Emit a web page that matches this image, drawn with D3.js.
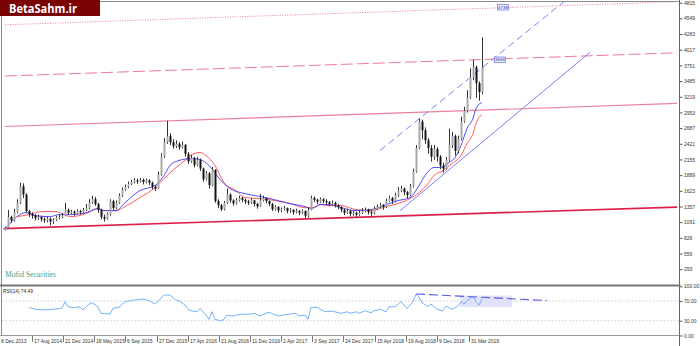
<!DOCTYPE html>
<html><head><meta charset="utf-8">
<script src="https://cdn.jsdelivr.net/npm/d3@7"></script>
<style>body{margin:0;background:#fff}svg{display:block}</style>
</head><body>
<svg id="c" width="700" height="346"></svg>
<script>
// ---------- DATA ----------
const openP = [
 960,1000,1180,1120,1260,1420,1700,1560,1280,1230,
 1200,1160,1180,1140,1120,1150,1100,1130,1170,1180,
 1200,1300,1250,1270,1240,1280,1260,1300,1330,1420,
 1480,1400,1300,1180,1150,1230,1450,1330,1420,1540,
 1640,1690,1740,1770,1800,1780,1810,1770,1800,1760,
 1690,1660,1900,2200,2450,2550,2450,2380,2420,2360,
 2400,2250,2120,2180,2060,2150,2000,1820,1920,1720,
 1980,1450,1380,1310,1420,1560,1460,1410,1460,1500,
 1470,1440,1420,1460,1400,1360,1460,1500,1450,1400,
 1310,1350,1290,1310,1330,1280,1300,1260,1280,1250,
 1280,1200,1300,1500,1470,1440,1480,1450,1430,1400,
 1420,1380,1350,1300,1250,1280,1230,1250,1220,1250,
 1280,1300,1260,1240,1320,1350,1380,1350,1450,1500,
 1450,1550,1620,1660,1600,1550,1700,1950,2350,2800,
 2650,2480,2350,2200,2330,2200,2050,2000,2150,2400,
 2550,2300,2500,2800,2980,3200,3550,3720,3450,3300];
const highP = [
 1020,1300,1200,1320,1480,1760,1750,1580,1300,1260,
 1230,1220,1200,1170,1180,1170,1160,1200,1220,1240,
 1420,1320,1300,1290,1310,1300,1330,1400,1480,1540,
 1520,1420,1320,1220,1260,1480,1470,1460,1580,1680,
 1730,1780,1810,1840,1830,1840,1830,1830,1820,1780,
 1720,1950,2260,2520,2810,2600,2500,2480,2450,2460,
 2420,2280,2230,2200,2200,2170,2020,1960,1940,2030,
 1990,1480,1400,1450,1660,1580,1480,1500,1540,1520,
 1490,1470,1500,1470,1420,1570,1540,1510,1460,1420,
 1380,1360,1340,1370,1340,1330,1310,1320,1300,1310,
 1290,1340,1540,1530,1490,1510,1500,1480,1450,1460,
 1440,1400,1360,1320,1320,1300,1290,1270,1290,1330,
 1340,1320,1290,1360,1390,1420,1400,1490,1540,1520,
 1590,1690,1710,1680,1620,1740,2000,2400,2850,2830,
 2700,2520,2400,2400,2360,2230,2100,2200,2680,2620,
 2580,2560,2880,3050,3330,3700,3850,3750,3480,4228];
const lowP = [
 950,990,1080,1100,1240,1400,1500,1250,1180,1150,
 1120,1130,1100,1080,1090,1040,1060,1110,1140,1160,
 1190,1220,1230,1200,1230,1220,1240,1280,1310,1400,
 1370,1250,1140,1100,1130,1200,1300,1310,1400,1520,
 1620,1670,1720,1750,1740,1760,1730,1750,1720,1650,
 1620,1650,1880,2180,2420,2400,2340,2350,2320,2340,
 2200,2080,2100,2020,2040,1960,1780,1800,1660,1700,
 1420,1330,1280,1290,1400,1420,1370,1390,1440,1430,
 1400,1380,1400,1360,1320,1350,1440,1410,1360,1280,
 1290,1250,1260,1290,1240,1250,1220,1240,1210,1230,
 1160,1170,1290,1430,1400,1420,1410,1390,1360,1380,
 1340,1310,1260,1210,1230,1190,1200,1180,1200,1230,
 1260,1220,1190,1220,1300,1330,1300,1330,1440,1400,
 1430,1520,1600,1550,1500,1530,1680,1930,2330,2500,
 2420,2250,2120,2150,2120,1990,1930,1980,2120,2350,
 2220,2260,2480,2780,2950,3180,3500,3200,3150,3260];
const closeP = [
 1000,1180,1120,1260,1420,1700,1560,1280,1230,1200,
 1160,1180,1140,1120,1150,1100,1130,1170,1180,1200,
 1300,1250,1270,1240,1280,1260,1300,1330,1420,1480,
 1400,1300,1180,1150,1230,1450,1330,1420,1540,1640,
 1690,1740,1770,1800,1780,1810,1770,1800,1760,1690,
 1660,1900,2200,2450,2550,2450,2380,2420,2360,2400,
 2250,2120,2180,2060,2150,2000,1820,1920,1720,1980,
 1450,1380,1310,1420,1560,1460,1410,1460,1500,1470,
 1440,1420,1460,1400,1360,1460,1500,1450,1400,1310,
 1350,1290,1310,1330,1280,1300,1260,1280,1250,1280,
 1200,1300,1500,1470,1440,1480,1450,1430,1400,1420,
 1380,1350,1300,1250,1280,1230,1250,1220,1250,1280,
 1300,1260,1240,1320,1350,1380,1350,1450,1500,1450,
 1550,1620,1660,1600,1550,1700,1950,2350,2800,2650,
 2480,2350,2200,2330,2200,2050,2000,2150,2400,2550,
 2300,2500,2800,2980,3200,3550,3720,3450,3300,3720];

const maBlueIdx = [0,7,10,15,18,22,27,31,33,37,40,45,50,53,55,58,62,65,68,72,75,80,87,95,100,102,105,108,112,117,122,127,131,135,138,140,143,145,148,150,152,154,156,157,159];
const maBlueVal = [970,1253,1202,1185,1219,1219,1253,1321,1287,1287,1423,1627,1712,1882,2052,2137,2171,2154,2052,1797,1661,1576,1508,1406,1355,1321,1389,1389,1338,1287,1304,1389,1457,1508,1712,1882,2018,2018,2103,2188,2392,2681,2851,3021,3123];
const maRedIdx = [4,8,12,17,19,22,27,31,33,37,40,45,50,53,57,60,63,65,67,70,73,77,80,85,90,95,100,103,105,108,112,117,122,127,132,135,138,141,143,146,149,152,154,156,157,159];
const maRedVal = [1185,1219,1270,1270,1236,1185,1236,1321,1287,1287,1355,1508,1678,1831,2018,2137,2256,2273,2222,2052,1763,1627,1508,1491,1457,1406,1338,1338,1389,1372,1372,1304,1287,1355,1423,1491,1593,1746,1882,1967,2086,2222,2426,2596,2766,2919];

const rsiIdx = [8,10,13,17,19,20,21,23,25,26,28,29,31,32,35,36,38,40,43,46,48,50,52,53,55,57,58,60,61,62,64,65,67,68,69,70,72,73,74,76,78,82,83,85,87,88,91,93,95,97,98,100,101,102,104,106,107,109,112,114,115,117,118,120,122,123,125,127,128,130,132,133,134,136,137,138,139,141,142,144,146,147,149,151,152,153,154,156,157,158,159];
const rsiVal = [57.2,53.2,51.8,53.8,55.8,68.6,58.5,56.4,58.5,51.8,63.9,66.6,58.5,45.1,43.6,55.2,57.2,68.6,72.1,74.1,70.6,63.9,75.5,82.2,82.2,72.1,70.6,61.9,53.2,50.3,48.3,55.2,41.6,32.9,48.3,32.9,30.0,32.9,41.6,39.6,43.0,43.6,45.1,39.6,45.1,47.1,39.6,41.6,43.6,45.1,39.6,41.6,32.9,57.2,57.2,50.3,48.3,49.7,45.1,48.3,45.1,48.3,45.1,50.3,46.3,50.3,53.2,48.3,58.5,58.5,68.6,61.9,55.2,68.6,84.2,78.8,66.6,58.5,63.9,53.2,50.3,59.9,53.2,59.9,68.6,63.9,70.6,80.2,68.6,61.9,74.49];

const priceTicks = [4815,4549,4283,4017,3751,3485,3219,2953,2687,2421,2155,1889,1623,1357,1091,826,559,293];
const rsiTicks = [100,70,30,0];
const rsiTickLabels = ["100.00","70.00","30.00","0.00"];
const rsiLevels = [70,30];
const dateLabels = ["8 Dec 2013","17 Aug 2014","21 Dec 2014","18 May 2015","6 Sep 2015","27 Dec 2015","17 Apr 2016","21 Aug 2016","11 Dec 2016","2 Apr 2017","3 Sep 2017","24 Dec 2017","15 Apr 2018","19 Aug 2018","9 Dec 2018","31 Mar 2019"];
const dateIdx = [-1.4,8.9,19.4,29.7,40,50.5,61,71.3,81.7,92,102.3,112.7,123.3,133.7,144.1,154.7];

// drawn objects (index, price)
const channelTopDotted = [[0,4440],[224,4832]];
const channelDashed = [[0,3571],[224,3965]];
const channelMid = [[0,2715],[224,3106]];
const channelBottom = [[-0.5,982],[224,1347]];
const trendSupport = [[131.7,1287],[195,3973]];
const trendResistance = [[125,2308],[187,4860]];
const priceLabelText = ["4738","3846"];
const priceLabelIdx = [166,165];
const priceLabelVal = [4738,3846];
const rsiTrend = [[137,84.5],[180.7,71]];
const rsiBox = [[151.7,81],[169,58]];
const rsiName = "RSI(14) 74.49";
const brand = "BetaSahm.ir";
const watermark = "Mofid Securities";

// ---------- DRAW ----------
const svg = d3.select("#c");
const W = 700;
const axisX = 679.5;
const x = d3.scaleLinear().domain([0,224]).range([5,677]);
const y = d3.scaleLinear().domain([293,4815]).range([269.2,2.7]);
const yr = d3.scaleLinear().domain([0,100]).range([335.5,286.3]);
const font = "'Liberation Sans', Arial, sans-serif";

svg.append("rect").attr("width",W).attr("height",346).attr("fill","#fff");

const defs = svg.append("defs");
defs.append("clipPath").attr("id","main").append("rect").attr("x",2).attr("y",1.5).attr("width",axisX-2).attr("height",283);
defs.append("clipPath").attr("id","rsi").append("rect").attr("x",2).attr("y",287).attr("width",axisX-2).attr("height",48);

const main = svg.append("g").attr("clip-path","url(#main)");
const line2 = (pts)=> d3.line().x(d=>x(d[0])).y(d=>y(d[1]))(pts);

// channel lines
main.append("path").attr("d",line2(channelTopDotted)).attr("stroke","#ec7b95").attr("stroke-width",1).attr("stroke-dasharray","1,1.5").attr("fill","none");
main.append("path").attr("d",line2(channelDashed)).attr("stroke","#ec7b95").attr("stroke-width",1).attr("stroke-dasharray","12,4").attr("fill","none");
main.append("path").attr("d",line2(channelMid)).attr("stroke","#ee7f98").attr("stroke-width",1.1).attr("fill","none");
main.append("path").attr("d",line2(channelBottom)).attr("stroke","#dc1f4a").attr("stroke-width",1.6).attr("fill","none");
// blue trend lines
main.append("path").attr("d",line2(trendSupport)).attr("stroke","#6f6ff5").attr("stroke-width",0.9).attr("fill","none");
main.append("path").attr("d",line2(trendResistance)).attr("stroke","#6f6ff5").attr("stroke-width",0.9).attr("stroke-dasharray","7,4").attr("fill","none");

// moving averages
const lineIdx = (idx,val)=> d3.line().curve(d3.curveMonotoneX).x((d,i)=>x(idx[i])).y((d,i)=>y(val[i]))(val);
main.append("path").attr("d",lineIdx(maRedIdx,maRedVal)).attr("stroke","#ff4a4a").attr("stroke-width",0.9).attr("fill","none");
main.append("path").attr("d",lineIdx(maBlueIdx,maBlueVal)).attr("stroke","#3b3bff").attr("stroke-width",0.9).attr("fill","none");

// candles
const bars = main.append("g");
closeP.forEach((c,i)=>{
  const xc = Math.round(x(i));
  const o = openP[i];
  bars.append("line").attr("x1",xc+0.5).attr("x2",xc+0.5).attr("y1",y(highP[i])).attr("y2",y(lowP[i])).attr("stroke","#333").attr("stroke-width",1);
  const top = y(Math.max(o,c)), bot = y(Math.min(o,c));
  bars.append("rect").attr("x",xc-0.5).attr("width",2).attr("y",top).attr("height",Math.max(0.8,bot-top))
    .attr("fill", c>=o ? "#a8a8a8" : "#151515");
});

// price label boxes
priceLabelText.forEach((t,i)=>{
  const cx = x(priceLabelIdx[i]), cy = y(priceLabelVal[i]);
  svg.append("rect").attr("x",cx-5.5).attr("y",cy-2.8).attr("width",11).attr("height",5.6).attr("fill","#eef").attr("stroke","#5a5ad0").attr("stroke-width",0.6);
  svg.append("text").attr("x",cx).attr("y",cy+1.6).attr("text-anchor","middle").attr("font-size",4.4).attr("font-family",font).attr("fill","#3030a0").text(t);
});

// frame
const frame = svg.append("g").attr("stroke","#8a8a8a").attr("fill","none");
frame.append("line").attr("x1",100).attr("x2",axisX).attr("y1",1.5).attr("y2",1.5);
frame.append("line").attr("x1",1.5).attr("x2",1.5).attr("y1",16).attr("y2",335.5);
frame.append("line").attr("x1",axisX).attr("x2",axisX).attr("y1",0).attr("y2",346).attr("stroke","#666");
frame.append("line").attr("x1",0).attr("x2",axisX+1).attr("y1",285.5).attr("y2",285.5).attr("stroke","#777").attr("stroke-width",2);
frame.append("line").attr("x1",0).attr("x2",axisX).attr("y1",335.5).attr("y2",335.5).attr("stroke","#999");

// right price axis
const ya = svg.append("g").attr("transform",`translate(${axisX},0)`)
  .call(d3.axisRight(y).tickValues(priceTicks).tickSize(3).tickFormat(d=>String(d)));
ya.select(".domain").remove();
ya.selectAll("line").attr("stroke","#555");
ya.selectAll("text").attr("font-size",5).attr("font-family",font).attr("fill","#333").attr("x",4.5);

// RSI axis
const ra = svg.append("g").attr("transform",`translate(${axisX},0)`)
  .call(d3.axisRight(yr).tickValues(rsiTicks).tickSize(3).tickFormat((d,i)=>rsiTickLabels[i]));
ra.select(".domain").remove();
ra.selectAll("line").attr("stroke","#555");
ra.selectAll("text").attr("font-size",5).attr("font-family",font).attr("fill","#333").attr("x",4.5);

// RSI panel
const rg = svg.append("g").attr("clip-path","url(#rsi)");
rsiLevels.forEach(v=>{
  rg.append("line").attr("x1",2).attr("x2",axisX).attr("y1",yr(v)).attr("y2",yr(v)).attr("stroke","#b5b5b5").attr("stroke-width",0.7).attr("stroke-dasharray","1.5,2");
});
rg.append("rect").attr("x",x(rsiBox[0][0])).attr("y",yr(rsiBox[0][1])).attr("width",x(rsiBox[1][0])-x(rsiBox[0][0])).attr("height",yr(rsiBox[1][1])-yr(rsiBox[0][1])).attr("fill","#dcdcfa").attr("opacity",0.85);
rg.append("path").attr("d",lineIdx(rsiIdx,rsiVal).replace(/./,"M")).attr("d",d3.line().x((d,i)=>x(rsiIdx[i])).y((d,i)=>yr(rsiVal[i]))(rsiVal)).attr("stroke","#65a9f5").attr("stroke-width",0.9).attr("fill","none");
rg.append("path").attr("d",d3.line().x(d=>x(d[0])).y(d=>yr(d[1]))(rsiTrend)).attr("stroke","#5a5af0").attr("stroke-width",1.1).attr("stroke-dasharray","9,4").attr("fill","none");
svg.append("text").attr("x",3).attr("y",293).attr("font-size",4.8).attr("font-family",font).attr("fill","#222").text(rsiName);

// date axis
const dg = svg.append("g");
dateIdx.forEach((d,i)=>{
  const xp = Math.round(x(d))+0.5;
  if(i>0) dg.append("line").attr("x1",xp).attr("x2",xp).attr("y1",336).attr("y2",342).attr("stroke","#555").attr("stroke-width",0.8);
  dg.append("text").attr("x",i>0? xp+1.5 : 1).attr("y",342.5).attr("font-size",5).attr("font-family",font).attr("fill","#333").text(dateLabels[i]);
});

// watermark texts
svg.append("text").attr("x",5).attr("y",277).attr("font-size",7.6).attr("font-family","'Liberation Serif', 'DejaVu Serif', serif").attr("fill","#3a9f90").text(watermark);

// brand box
svg.append("rect").attr("x",0).attr("y",0).attr("width",100).attr("height",16).attr("fill","#7a0202");
svg.append("text").attr("x",9).attr("y",12.5).attr("font-size",12.5).attr("font-weight","bold").attr("font-family","'Open Sans', 'DejaVu Sans', sans-serif").attr("fill","#fff").attr("textLength",68).attr("lengthAdjust","spacingAndGlyphs").text(brand);
</script>
</body></html>
